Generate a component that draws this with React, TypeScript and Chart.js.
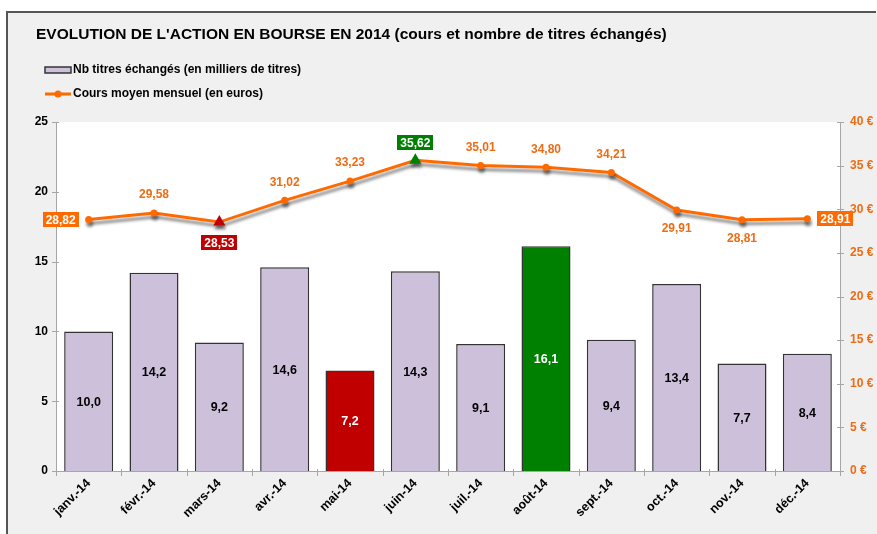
import React, { useEffect, useRef } from 'react';
import { Chart, registerables } from 'chart.js';

Chart.register(...registerables);

const categories = ['janv.-14', 'févr.-14', 'mars-14', 'avr.-14', 'mai-14', 'juin-14', 'juil.-14', 'août-14', 'sept.-14', 'oct.-14', 'nov.-14', 'déc.-14'];
const volumes = [10.0, 14.2, 9.2, 14.6, 7.2, 14.3, 9.1, 16.1, 9.4, 13.4, 7.7, 8.4];
const prices = [28.82, 29.58, 28.53, 31.02, 33.23, 35.62, 35.01, 34.80, 34.21, 29.91, 28.81, 28.91];
const volumeTicks = [0, 5, 10, 15, 20, 25];
const priceTicks = [0, 5, 10, 15, 20, 25, 30, 35, 40];
const priceLabelPlacement = ['left', 'above', 'below', 'above', 'above', 'above', 'above', 'above', 'above', 'below', 'below', 'right'];

const TITLE = "EVOLUTION DE L'ACTION EN BOURSE EN 2014 (cours et nombre de titres échangés)";
const LEGEND_BAR = 'Nb titres échangés (en milliers de titres)';
const LEGEND_LINE = 'Cours moyen mensuel (en euros)';

const FONT = '"Liberation Sans", Arial, sans-serif';
const ORANGE = '#ff6a00';
const ORANGE_TEXT = '#ee6c14';
const LAVENDER = '#ccc0da';
const RED = '#c00000';
const GREEN = '#008000';
const AXIS = '#a6a6a6';

const fmt = (v: number, d: number) => v.toFixed(d).replace('.', ',');

export default function App() {
  const ref = useRef<HTMLCanvasElement>(null);

  useEffect(() => {
    document.body.style.margin = '0';
    const minI = prices.indexOf(Math.min(...prices));
    const maxI = prices.indexOf(Math.max(...prices));
    const minV = volumes.indexOf(Math.min(...volumes));
    const maxV = volumes.indexOf(Math.max(...volumes));

    const barColors = volumes.map((_, i) => (i === minV ? RED : i === maxV ? GREEN : LAVENDER));
    const pointColors = prices.map((_, i) => (i === minI ? RED : i === maxI ? GREEN : ORANGE));
    const pointStyles = prices.map((_, i) => (i === minI || i === maxI ? 'triangle' : 'circle'));
    const pointRadii = prices.map((_, i) => (i === minI || i === maxI ? 7 : 3.5));

    const bgPlugin = {
      id: 'bg',
      beforeDraw(chart: any) {
        const { ctx, chartArea } = chart;
        ctx.save();
        ctx.fillStyle = '#ffffff';
        ctx.fillRect(0, 0, chart.width, chart.height);
        ctx.fillStyle = '#f0f0f0';
        ctx.fillRect(8, 13, chart.width - 8, chart.height - 13);
        ctx.strokeStyle = '#555555';
        ctx.lineWidth = 2;
        ctx.beginPath();
        ctx.moveTo(7, chart.height);
        ctx.lineTo(7, 12);
        ctx.lineTo(chart.width - 1, 12);
        ctx.stroke();
        ctx.fillStyle = '#ffffff';
        ctx.fillRect(chartArea.left, chartArea.top, chartArea.right - chartArea.left, chartArea.bottom - chartArea.top);

        // title
        ctx.fillStyle = '#000';
        ctx.textBaseline = 'middle';
        ctx.textAlign = 'left';
        ctx.font = `bold 15.5px ${FONT}`;
        ctx.fillText(TITLE, 36, 35);

        // legend
        ctx.font = `bold 12px ${FONT}`;
        ctx.fillStyle = LAVENDER;
        ctx.fillRect(45, 67, 26, 6);
        ctx.strokeStyle = '#333';
        ctx.lineWidth = 1.5;
        ctx.strokeRect(45, 67, 26, 6);
        ctx.fillStyle = '#000';
        ctx.fillText(LEGEND_BAR, 73, 70);

        ctx.strokeStyle = ORANGE;
        ctx.lineWidth = 3;
        ctx.beginPath();
        ctx.moveTo(45, 94);
        ctx.lineTo(71, 94);
        ctx.stroke();
        ctx.fillStyle = ORANGE;
        ctx.beginPath();
        ctx.arc(58, 94, 3.5, 0, Math.PI * 2);
        ctx.fill();
        ctx.fillStyle = '#000';
        ctx.fillText(LEGEND_LINE, 73, 94);
        ctx.restore();
      },
      beforeDatasetsDraw(chart: any) {
        const { ctx, chartArea, scales } = chart;
        const { left, right, bottom } = chartArea;
        ctx.save();
        ctx.strokeStyle = AXIS;
        ctx.lineWidth = 1;
        ctx.beginPath();
        volumeTicks.forEach((v) => {
          const y = Math.round(scales.y.getPixelForValue(v)) + 0.5;
          ctx.moveTo(left - 4, y);
          ctx.lineTo(left + 3, y);
        });
        priceTicks.forEach((v) => {
          const y = Math.round(scales.y1.getPixelForValue(v)) + 0.5;
          ctx.moveTo(right - 3, y);
          ctx.lineTo(right + 4, y);
        });
        const w = (right - left) / categories.length;
        for (let i = 0; i <= categories.length; i++) {
          const x = Math.round(left + i * w) + 0.5;
          ctx.moveTo(x, bottom - 2);
          ctx.lineTo(x, bottom + 5);
        }
        ctx.stroke();
        ctx.restore();
      },
      beforeDatasetDraw(chart: any, args: any) {
        if (args.index === 1) {
          const ctx = chart.ctx;
          ctx.save();
          ctx.shadowColor = 'rgba(0,0,0,0.45)';
          ctx.shadowOffsetX = 1;
          ctx.shadowOffsetY = 4;
          ctx.shadowBlur = 3;
        }
      },
      afterDatasetDraw(chart: any, args: any) {
        if (args.index === 1) chart.ctx.restore();
      },
      afterDatasetsDraw(chart: any) {
        const { ctx } = chart;
        ctx.save();
        ctx.textAlign = 'center';
        ctx.textBaseline = 'middle';
        ctx.font = `bold 12.5px ${FONT}`;
        const barMeta = chart.getDatasetMeta(0);
        barMeta.data.forEach((el: any, i: number) => {
          ctx.fillStyle = i === minV || i === maxV ? '#ffffff' : '#000000';
          ctx.fillText(fmt(volumes[i], 1), el.x, (el.y + el.base) / 2 + 1);
        });
        ctx.font = `bold 12px ${FONT}`;
        const lineMeta = chart.getDatasetMeta(1);
        lineMeta.data.forEach((el: any, i: number) => {
          const txt = fmt(prices[i], 2);
          const tw = ctx.measureText(txt).width;
          const bw = tw + 6;
          const bh = 15;
          let boxColor: string | null = null;
          let cx = el.x;
          let cy = el.y;
          if (i === minI) {
            boxColor = RED;
            cy = el.y + 14 + bh / 2 - 1;
          } else if (i === maxI) {
            boxColor = GREEN;
            cy = el.y - 10 - bh / 2;
          } else if (priceLabelPlacement[i] === 'left') {
            boxColor = ORANGE;
            cx = el.x - 10 - bw / 2;
          } else if (priceLabelPlacement[i] === 'right') {
            boxColor = ORANGE;
            cx = el.x + 10 + bw / 2;
          } else if (priceLabelPlacement[i] === 'above') {
            cy = el.y - 19;
          } else {
            cy = el.y + 18;
          }
          if (boxColor) {
            ctx.fillStyle = boxColor;
            ctx.fillRect(Math.round(cx - bw / 2), Math.round(cy - bh / 2), Math.round(bw), bh);
            ctx.fillStyle = '#ffffff';
          } else {
            ctx.fillStyle = ORANGE_TEXT;
          }
          ctx.fillText(txt, cx, cy + 1);
        });
        ctx.restore();
      },
    };

    const chart = new Chart(ref.current as HTMLCanvasElement, {
      type: 'bar',
      data: {
        labels: categories,
        datasets: [
          {
            type: 'bar',
            label: LEGEND_BAR,
            data: volumes,
            yAxisID: 'y',
            backgroundColor: barColors,
            borderColor: '#333333',
            borderWidth: 1.5,
            barPercentage: 0.75,
            categoryPercentage: 1,
            order: 2,
          },
          {
            type: 'line',
            label: LEGEND_LINE,
            data: prices,
            yAxisID: 'y1',
            borderColor: ORANGE,
            borderWidth: 3,
            pointStyle: pointStyles as any,
            pointRadius: pointRadii,
            pointBackgroundColor: pointColors,
            pointBorderColor: pointColors,
            pointBorderWidth: 0,
            tension: 0,
            order: 1,
          } as any,
        ],
      },
      options: {
        responsive: false,
        devicePixelRatio: 1,
        animation: false,
        layout: { padding: { left: 8, right: 0, top: 122, bottom: 0 } },
        plugins: { legend: { display: false }, tooltip: { enabled: false }, title: { display: false } },
        scales: {
          x: {
            offset: true,
            grid: { display: false, drawTicks: false },
            border: { display: true, color: AXIS, width: 1 },
            ticks: {
              maxRotation: 45,
              minRotation: 45,
              autoSkip: false,
              padding: 5,
              color: '#000',
              font: { family: FONT, size: 12.5, weight: 'bold' },
            },
            afterFit: (s: any) => { s.height = 63; },
          },
          y: {
            position: 'left',
            min: 0,
            max: 25,
            grid: { display: false, drawTicks: false },
            border: { display: true, color: AXIS, width: 1 },
            ticks: { stepSize: 5, padding: 8, color: '#000', font: { family: FONT, size: 12, weight: 'bold' } },
            afterFit: (s: any) => { s.width = 48; },
          },
          y1: {
            position: 'right',
            min: 0,
            max: 40,
            grid: { display: false, drawTicks: false },
            border: { display: true, color: AXIS, width: 1 },
            ticks: {
              stepSize: 5,
              padding: 10,
              color: ORANGE_TEXT,
              font: { family: FONT, size: 12, weight: 'bold' },
              callback: (v: any) => `${v} €`,
            },
            afterFit: (s: any) => { s.width = 37; },
          },
        },
      } as any,
      plugins: [bgPlugin],
    });
    return () => chart.destroy();
  }, []);

  return (
    <div style={{ width: 877, height: 534 }}>
      <canvas ref={ref} width={877} height={534} style={{ display: 'block' }} />
    </div>
  );
}
